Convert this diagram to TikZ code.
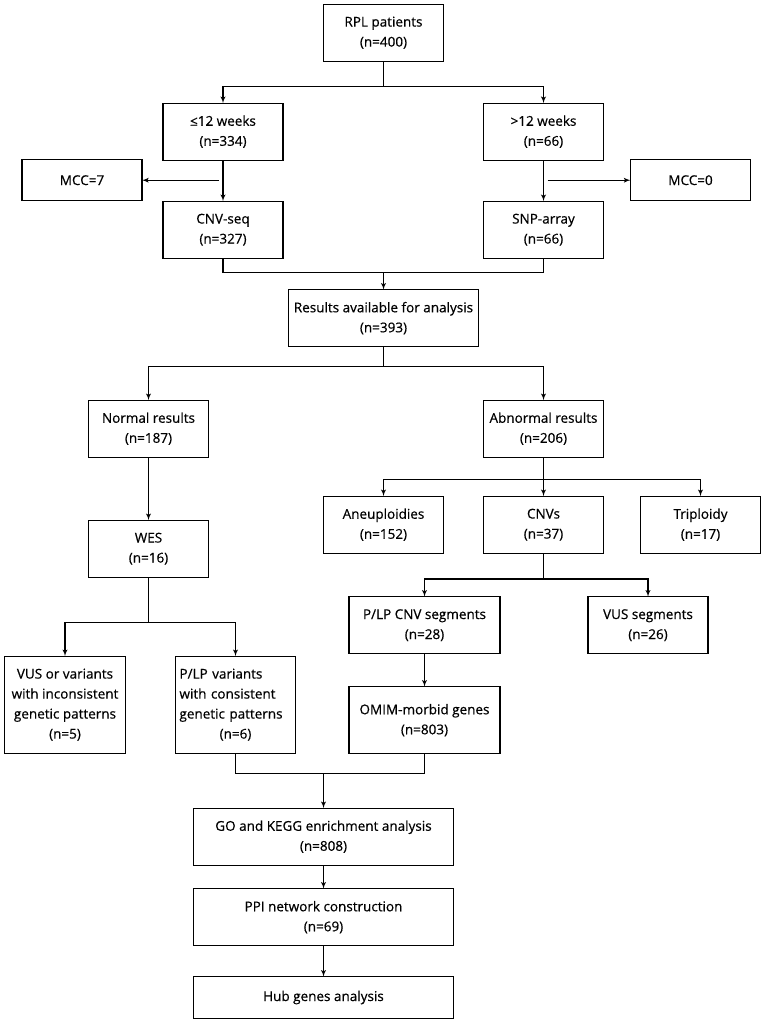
\documentclass[tikz,border=0pt]{standalone}
\usepackage{fontspec}
\setmainfont[FakeBold=0.5]{Open Sans}
\usetikzlibrary{positioning, arrows, calc}
\tikzset{
->, % connectors are directed
>=latex', % small filled heads
every node/.style={font=\fontsize{13.5}{20}\selectfont},
box/.style={draw, minimum width=120pt, minimum height=57pt, align=center, inner sep=2pt, outer sep=0pt}, % plain flow box
smallbox/.style={box, minimum height=41pt},
widebox/.style={box, minimum width=260pt},
}

\begin{document}
\begin{tikzpicture}[x=1pt, y=1pt, line width=1.3pt]
        \useasboundingbox (0,0) rectangle (766,-1024);

        % sampling and testing
        \node[box] (rpl) at (383.5,-32.7) {RPL patients\\(n=400)};
        \node[box, below=42pt of rpl, xshift=-160.5pt] (early) {≤12 weeks\\(n=334)};
        \node[box, below=42pt of rpl, xshift=160pt] (late) {>12 weeks\\(n=66)};
        \node[box, below=41pt of early] (cnvseq) {CNV-seq\\(n=327)};
        \node[box, below=41pt of late] (snp) {SNP-array\\(n=66)};
        \node[smallbox, left=21pt of early, yshift=-48.5pt] (mcc7) {MCC=7};
        \node[smallbox, right=27pt of late, yshift=-48.5pt] (mcc0) {MCC=0};
        \node[box, minimum width=190pt, below=31.5pt of cnvseq, xshift=160.5pt] (results) {Results available for analysis\\(n=393)};

        % results
        \node[box, below=53.5pt of results, xshift=-235pt] (normal) {Normal results\\(n=187)};
        \node[box, below=53.5pt of results, xshift=160pt] (abnormal) {Abnormal results\\(n=206)};
        \node[box, below=39pt of abnormal] (cnvs) {CNVs\\(n=37)};
        \node[box, left=40pt of cnvs] (aneu) {Aneuploidies\\(n=152)};
        \node[box, right=37pt of cnvs] (trip) {Triploidy\\(n=17)};
        \node[box, below=63pt of normal] (wes) {WES\\(n=16)};
        \node[box, minimum width=151pt, below=43.5pt of cnvs, xshift=-119pt] (plpcnv) {P/LP CNV segments\\(n=28)};
        \node[box, right=88pt of plpcnv] (vusseg) {VUS segments\\(n=26)};
        \node[box, minimum width=151pt, minimum height=67pt, below=33pt of plpcnv] (omim) {OMIM-morbid genes\\(n=803)};
        \node[box, minimum width=121pt, minimum height=97pt, below=79pt of wes, xshift=-83.5pt] (vusor) {VUS or variants\\with inconsistent\\genetic patterns\\(n=5)};
        \node[box, minimum height=97pt, text width=112pt, align=left, right=50pt of vusor] (plpvar) {P/LP variants\\with consistent\\genetic patterns\\\makebox[112pt]{(n=6)}};

        % gene analysis
        \node[widebox, below=55pt of plpvar, xshift=88pt] (go) {GO and KEGG enrichment analysis\\(n=808)};
        \node[widebox, below=23.5pt of go] (ppi) {PPI network construction\\(n=69)};
        \node[widebox, minimum height=41.6pt, below=31pt of ppi] (hub) {Hub genes analysis};

        \draw[-] (rpl.south) -- ++(0,-25) coordinate (s1);
        \draw (s1) -| (early.north);
        \draw (s1) -| (late.north);
        \draw (early) -- (cnvseq);
        \draw (late) -- (snp);
        \draw ($(early.south |- mcc7.east)+(-4,0)$) -- (mcc7.east);
        \draw ($(late.south |- mcc0.west)+(4,0)$) -- (mcc0.west);

        \draw[-] (cnvseq.south) -- ++(0,-14) coordinate (m1) -| (snp.south);
        \draw (m1 -| results.north) -- (results.north);

        \draw[-] (results.south) -- ++(0,-20) coordinate (s2);
        \draw (s2) -| (normal.north);
        \draw (s2) -| (abnormal.north);

        \draw (abnormal) -- (cnvs);
        \path (abnormal.south) -- ++(0,-22) coordinate (s3);
        \draw (s3) -| (aneu.north);
        \draw (s3) -| (trip.north);

        \draw (normal) -- (wes);
        \draw[-] (wes.south) -- ++(0,-45) coordinate (s4);
        \draw (s4) -| (vusor.north);
        \draw (s4) -| (plpvar.north);

        \draw[-] (cnvs.south) -- ++(0,-25.7) coordinate (s5);
        \draw (s5) -| (plpcnv.north);
        \draw (s5) -| (vusseg.north);
        \draw (plpcnv) -- (omim);

        \draw[-] (plpvar.south) -- ++(0,-20.5) coordinate (m2) -| (omim.south);
        \draw (m2 -| go.north) -- (go.north);
        \draw (go) -- (ppi);
        \draw (ppi) -- (hub);
      \end{tikzpicture}
\end{document}
